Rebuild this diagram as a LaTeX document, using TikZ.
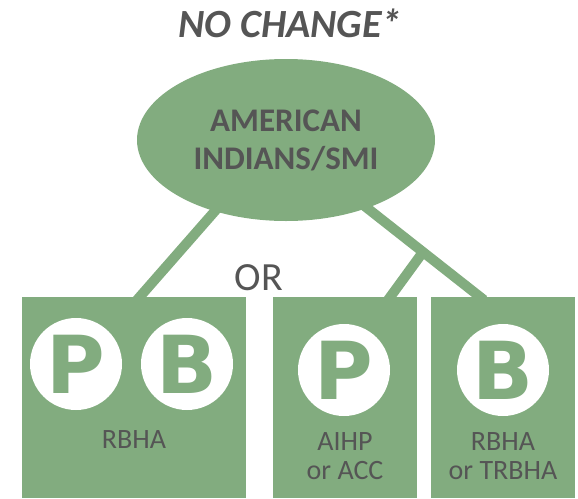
\documentclass[tikz,border=0pt]{standalone}
\usepackage{fontspec}
\setmainfont{Carlito}
\newfontfamily\letterfont{DejaVu Sans}
\usetikzlibrary{shapes.geometric,backgrounds,calc}
\definecolor{grn}{HTML}{82AC7F}
\definecolor{txt}{HTML}{555555}
\begin{document}
\begin{tikzpicture}[x=1pt,y=-1pt,
  box/.style={fill=grn, draw=none, inner sep=0pt, minimum height=201pt},
  circ/.style={circle, fill=white, draw=none, inner sep=0pt, minimum size=92pt,
    text=grn, font=\letterfont\bfseries\fontsize{80}{80}\selectfont},
  lbl/.style={text=txt, align=center, inner sep=0pt, font=\fontsize{28}{29}\selectfont},
  conn/.style={draw=grn, line width=10pt}]
\useasboundingbox (0,0) rectangle (578,498);
% title
\node[text=txt, font=\bfseries\itshape\fontsize{40}{42}\selectfont, inner sep=0pt] (title) at (290,23) {NO CHANGE*};
% ellipse
\node[ellipse, fill=grn, draw=none, minimum width=298pt, minimum height=162pt, inner sep=0pt,
  text=txt, align=center, font=\bfseries\fontsize{33}{38}\selectfont] (el) at (286,140) {AMERICAN\\INDIANS/SMI};
% OR
\node[text=txt, font=\fontsize{40}{40}\selectfont, inner sep=0pt] (or) at (259,278) {OR};
% boxes
\node[box, minimum width=224pt] (b1) at (134,397.5) {};
\node[box, minimum width=144pt] (b2) at (345,397.5) {};
\node[box, minimum width=144pt] (b3) at (503,397.5) {};
% circles
\node[circ] (p1) at (76,364) {P};
\node[circ] (q1) at (187,364) {B};
\node[circ] (p2) at (344,370) {P};
\node[circ] (q3) at (503,370) {B};
% labels
\node[lbl] (t1) at (134,440) {RBHA};
\node[lbl] (t2) at (345,456) {AIHP\\or ACC};
\node[lbl] (t3) at (503,456) {RBHA\\or TRBHA};
% connectors
\coordinate (l0) at (222,203);
\coordinate (r0) at (362,204);
\coordinate (b1a) at (137,300);
\coordinate (b2a) at (388,300);
\coordinate (b3a) at (484,300);
\coordinate (j) at ($(r0)!0.5!(b3a)$);
\begin{pgfonlayer}{background}
\draw[conn] (l0) -- (b1a);
\draw[conn] (r0) -- (b3a);
\draw[conn] (j) -- (b2a);
\end{pgfonlayer}
\end{tikzpicture}
\end{document}
